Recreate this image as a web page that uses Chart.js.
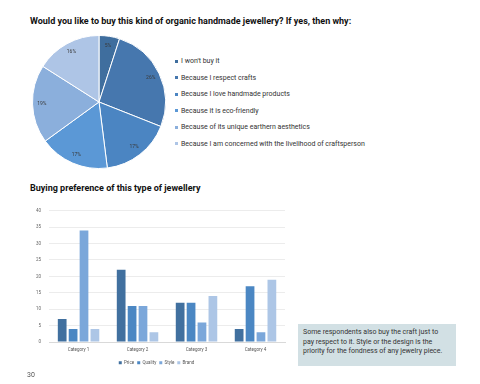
<!DOCTYPE html>
<html lang="en">
<head>
  <meta charset="UTF-8">
  <title>Organic handmade jewellery survey</title>
  <script src="https://cdn.jsdelivr.net/npm/chart.js"></script>
  <style>
    body {
      margin: 0;
      width: 480px;
      height: 384px;
      background: #fff;
      color: #222;
      font-family: Roboto, 'Noto Sans', sans-serif;
      position: relative;
      overflow: hidden;
    }

    h2 {
      position: absolute;
      left: 30px;
      margin: 0;
      font-size: 9px;
      font-weight: bold;
      color: #111;
      white-space: nowrap;
    }

    #pieWrap {
      position: absolute;
      left: 24px;
      top: 27px;
      width: 150px;
      height: 150px;
    }

    #pieLegend {
      position: absolute;
      left: 175px;
      top: 56px;
      list-style: none;
      margin: 0;
      padding: 0;
      font-size: 7px;
      color: #333;
    }

    #pieLegend li {
      height: 16.5px;
      line-height: 10px;
      white-space: nowrap;
      color: #333;
    }

    #pieLegend span {
      display: inline-block;
      width: 3px;
      height: 3px;
      margin-right: 3px;
      vertical-align: middle;
    }

    #barWrap {
      position: absolute;
      left: 20px;
      top: 200px;
      width: 272px;
      height: 175px;
    }

    .note {
      position: absolute;
      left: 298px;
      top: 324px;
      width: 149px;
      height: 34px;
      padding: 4px 4px 4px 5px;
      background: #d2e0e4;
      color: #333;
      font-size: 7px;
      line-height: 9.6px;
      white-space: nowrap;
    }

    .page {
      position: absolute;
      left: 27px;
      top: 371px;
      font-size: 7px;
      color: #555;
    }
  </style>
</head>
<body>

<h2 style="top:16px">Would you like to buy this kind of organic handmade jewellery? If yes, then why:</h2>
<div id="pieWrap"><canvas id="pieChart"></canvas></div>
<ul id="pieLegend"></ul>

<h2 style="top:183px">Buying preference of this type of jewellery</h2>
<div id="barWrap"><canvas id="barChart"></canvas></div>

<div class="note">Some respondents also buy the craft just to<br>pay respect to it. Style or the design is the<br>priority for the fondness of any jewelry piece.</div>
<div class="page">30</div>

<script>
  // pie: reasons to buy
  const reasons = [
    "I won't buy it",
    'Because I respect crafts',
    'Because I love handmade products',
    'Because it is eco-friendly',
    'Because of its unique earthern aesthetics',
    'Because I am concerned with the livelihood of craftsperson'
  ];
  const reasonShares = [5, 26, 17, 17, 19, 16];
  const pieColors = ['#3f6e9e', '#4677ae', '#4b85c2', '#5b98d6', '#8bafdc', '#aec5e6'];

  // bars: buying preference
  const categories = ['Category 1', 'Category 2', 'Category 3', 'Category 4'];
  const price = [7, 22, 12, 4];
  const quality = [4, 11, 12, 17];
  const style = [34, 11, 6, 3];
  const brand = [4, 3, 14, 19];
  const barColors = ['#41709f', '#4b87c3', '#7ba7da', '#adc6e6'];

  // percent labels inside the slices
  const sliceLabels = {
    id: 'sliceLabels',
    afterDatasetsDraw(chart) {
      const ctx = chart.ctx;
      const meta = chart.getDatasetMeta(0);
      ctx.save();
      ctx.font = '5px Roboto, sans-serif';
      ctx.fillStyle = '#3a3a3a';
      ctx.textAlign = 'center';
      ctx.textBaseline = 'middle';
      meta.data.forEach((arc, i) => {
        const mid = (arc.startAngle + arc.endAngle) / 2;
        const r = arc.outerRadius * 0.86;
        ctx.fillText(reasonShares[i] + '%', arc.x + Math.cos(mid) * r, arc.y + Math.sin(mid) * r);
      });
      ctx.restore();
    }
  };

  new Chart(document.getElementById('pieChart'), {
    type: 'pie',
    data: {
      labels: reasons,
      datasets: [{
        data: reasonShares,
        backgroundColor: pieColors,
        borderColor: '#fff',
        borderWidth: 1
      }]
    },
    options: {
      responsive: true,
      maintainAspectRatio: false,
      animation: false,
      layout: { padding: 8 },
      plugins: {
        legend: { display: false },
        tooltip: { enabled: false }
      }
    },
    plugins: [sliceLabels]
  });

  const legendList = document.getElementById('pieLegend');
  reasons.forEach((r, i) => {
    const li = document.createElement('li');
    li.innerHTML = '<span style="background:' + pieColors[i] + '"></span>';
    li.appendChild(document.createTextNode(r));
    legendList.appendChild(li);
  });

  const tickFont = { family: 'Roboto, sans-serif', size: 4.5 };

  new Chart(document.getElementById('barChart'), {
    type: 'bar',
    data: {
      labels: categories,
      datasets: [
        { label: 'Price', data: price, backgroundColor: barColors[0] },
        { label: 'Quality', data: quality, backgroundColor: barColors[1] },
        { label: 'Style', data: style, backgroundColor: barColors[2] },
        { label: 'Brand', data: brand, backgroundColor: barColors[3] }
      ]
    },
    options: {
      responsive: true,
      maintainAspectRatio: false,
      animation: false,
      datasets: {
        bar: { barPercentage: 0.8, categoryPercentage: 0.74 }
      },
      layout: { padding: { left: 8, right: 7, top: 4, bottom: 0 } },
      plugins: {
        legend: {
          position: 'bottom',
          labels: {
            boxWidth: 3,
            boxHeight: 3,
            padding: 3,
            color: '#555',
            font: tickFont
          }
        },
        tooltip: { enabled: false }
      },
      scales: {
        x: {
          grid: { display: false, drawTicks: false },
          border: { display: true, color: '#d9d9d9' },
          ticks: { color: '#555', font: tickFont, padding: 5 }
        },
        y: {
          min: 0,
          max: 40,
          ticks: { stepSize: 5, color: '#666', font: tickFont, padding: 8 },
          grid: { color: '#ececec', drawTicks: false },
          border: { display: false }
        }
      }
    }
  });
</script>

</body>
</html>
